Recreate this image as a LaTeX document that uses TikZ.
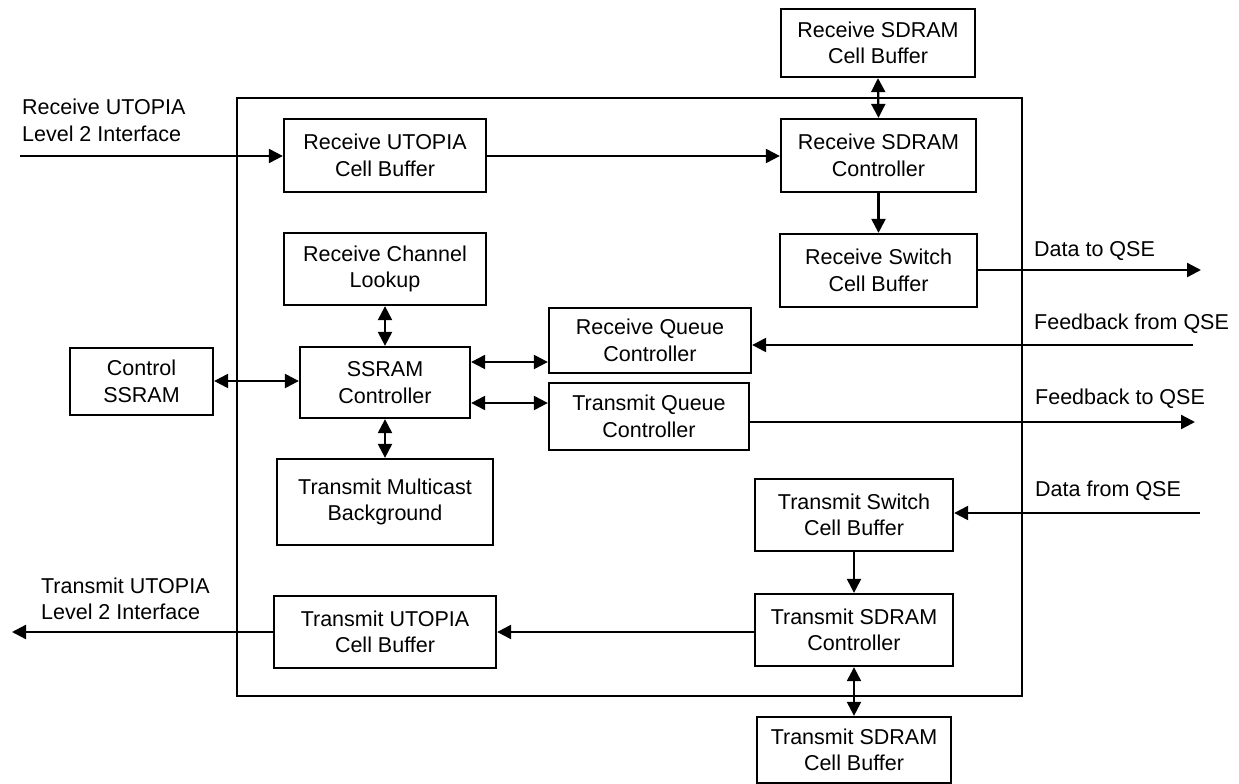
\documentclass[tikz,border=0pt]{standalone}
\usepackage{fontspec}
\setmainfont{Liberation Sans}
\usetikzlibrary{arrows.meta}
\begin{document}
\begin{tikzpicture}[x=1pt,y=-1pt,
  line width=2.3pt,
  every node/.style={font=\fontsize{21.5}{26.5}\selectfont},
  blk/.style={draw, line width=2.3pt, align=center, inner sep=0pt},
  lbl/.style={align=left, anchor=west, inner sep=0pt},
  arr/.style={-{Triangle[length=14pt,width=14pt]}},
  darr/.style={{Triangle[length=14pt,width=14pt]}-{Triangle[length=14pt,width=14pt]}}
]
\useasboundingbox (0,0) rectangle (1239,784);
% outer frame
\draw (237,98) rectangle (1022,696);
% blocks
\node[blk, minimum width=194pt, minimum height=68pt] (rsdcb) at (878,43) {Receive SDRAM\\Cell Buffer};
\node[blk, minimum width=195pt, minimum height=73pt] (rsdc) at (878.5,155.5) {Receive SDRAM\\Controller};
\node[blk, minimum width=197pt, minimum height=73pt] (rscb) at (878.5,270.5) {Receive Switch\\Cell Buffer};
\node[blk, minimum width=202pt, minimum height=73pt] (rucb) at (385,155.5) {Receive UTOPIA\\Cell Buffer};
\node[blk, minimum width=202pt, minimum height=72pt] (rcl) at (385,269) {Receive Channel\\Lookup};
\node[blk, minimum width=143pt, minimum height=67pt] (ctrl) at (141.5,381.5) {Control\\SSRAM};
\node[blk, minimum width=170pt, minimum height=71pt] (ssram) at (385,382.5) {SSRAM\\Controller};
\node[blk, minimum width=202pt, minimum height=65pt] (rqc) at (650,340.5) {Receive Queue\\Controller};
\node[blk, minimum width=200pt, minimum height=67pt] (tqc) at (649,416.5) {Transmit Queue\\Controller};
\node[blk, minimum width=216pt, minimum height=86pt] (tmb) at (385,502) {Transmit Multicast\\Background};
\node[blk, minimum width=198pt, minimum height=72pt] (tscb) at (854,515) {Transmit Switch\\Cell Buffer};
\node[blk, minimum width=198pt, minimum height=72pt] (tsc) at (854,630) {Transmit SDRAM\\Controller};
\node[blk, minimum width=222pt, minimum height=72pt] (tucb) at (385,632) {Transmit UTOPIA\\Cell Buffer};
\node[blk, minimum width=194pt, minimum height=66pt] (tsdcb) at (854,750) {Transmit SDRAM\\Cell Buffer};
% external labels
\node[lbl] (lrx) at (21,120.5) {Receive UTOPIA\\Level 2 Interface};
\node[lbl] (ltx) at (40,599) {Transmit UTOPIA\\Level 2 Interface};
\node[lbl] (ldto) at (1033,251) {Data to QSE};
\node[lbl] (lfbf) at (1033,324) {Feedback from QSE};
\node[lbl] (lfbt) at (1034,399) {Feedback to QSE};
\node[lbl] (ldfr) at (1034,491) {Data from QSE};
% free ends
\coordinate (rxin) at (20,156);
\coordinate (dto) at (1201,270);
\coordinate (fbf) at (1193,345);
\coordinate (fbt) at (1195,422);
\coordinate (dfr) at (1200,513);
\coordinate (txout) at (12,632);
% connectors
\draw[arr] (rxin) -- (rxin -| rucb.west);
\draw[arr] (rucb.east |- rxin) -- (rsdc.west |- rxin);
\draw[darr] (rsdcb.south) -- (rsdc.north);
\draw[arr] (rsdc.south) -- (rscb.north);
\draw[arr] (rscb.east |- dto) -- (dto);
\draw[arr] (fbf) -- (fbf -| rqc.east);
\draw[darr] (rcl.south) -- (ssram.north);
\draw[darr] (ssram.south) -- (tmb.north);
\draw[darr] (ctrl.east |- 0,381) -- (ssram.west |- 0,381);
\draw[darr] (ssram.east |- 0,362) -- (rqc.west |- 0,362);
\draw[darr] (ssram.east |- 0,403) -- (tqc.west |- 0,403);
\draw[arr] (tqc.east |- fbt) -- (fbt);
\draw[arr] (dfr) -- (dfr -| tscb.east);
\draw[arr] (tscb.south) -- (tsc.north);
\draw[arr] (tsc.west |- txout) -- (tucb.east |- txout);
\draw[arr] (tucb.west |- txout) -- (txout);
\draw[darr] (tsc.south) -- (tsdcb.north);
\end{tikzpicture}
\end{document}
